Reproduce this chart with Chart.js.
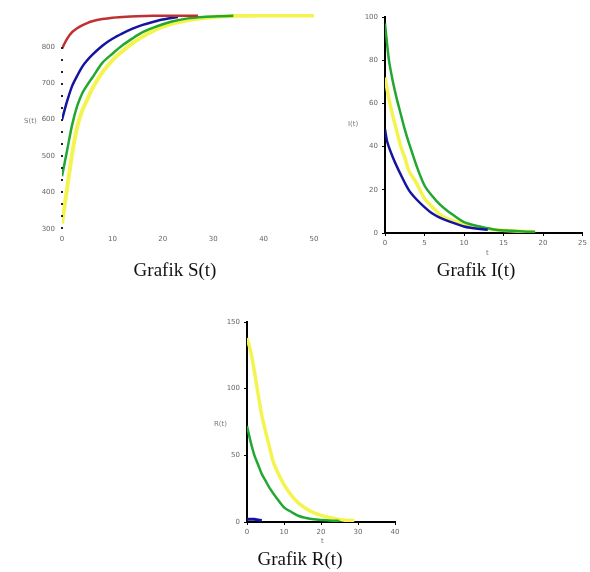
<!DOCTYPE html>
<html>
<head>
<meta charset="utf-8">
<script src="https://cdn.jsdelivr.net/npm/chart.js@4/dist/chart.umd.min.js"></script>
<style>
  body { margin: 0; background: #fff; width: 590px; height: 572px; position: relative; overflow: hidden; }
  canvas { position: absolute; }
  .cap { position: absolute; font-family: "Liberation Serif", serif; font-size: 19px; color: #111; white-space: nowrap; transform: translateX(-50%); }
  .ax { position: absolute; font-family: "DejaVu Sans", sans-serif; font-size: 7px; color: #777; }
</style>
</head>
<body>
<canvas id="sChart" style="left:0;top:0"></canvas>
<canvas id="iChart" style="left:330px;top:0"></canvas>
<canvas id="rChart" style="left:190px;top:300px"></canvas>

<div class="cap" style="left:175px;top:259px">Grafik S(t)</div>
<div class="cap" style="left:476px;top:259px">Grafik I(t)</div>
<div class="cap" style="left:300px;top:548px">Grafik R(t)</div>

<div class="ax" style="left:24px;top:117px">S(t)</div>
<div class="ax" style="left:348px;top:120px">I(t)</div>
<div class="ax" style="left:214px;top:420px">R(t)</div>
<div class="ax" style="left:486px;top:249px">t</div>
<div class="ax" style="left:321px;top:537px">t</div>

<script>
// Grafik S(t)
const sTicksX = [0, 10, 20, 30, 40, 50];
const sTicksY = [300, 400, 500, 600, 700, 800];
const sRedT = [0, 1, 2, 3, 4, 5, 6, 8, 10, 12, 15, 18, 21, 24, 27];
const sRed = [795, 822, 840, 851, 859, 865, 870, 876, 880, 882, 884, 885, 885, 885, 885];
const sBlueT = [0, 1, 2, 3, 4, 5, 6, 8, 10, 12, 14, 16, 18, 20, 23];
const sBlue = [600, 650, 692, 720, 745, 763, 778, 803, 822, 837, 850, 860, 868, 875, 882];
const sGreenT = [0, 1, 2, 3, 4, 5, 6, 8, 10, 12, 14, 16, 18, 20, 22, 25, 28, 31, 34];
const sGreen = [445, 515, 585, 637, 672, 695, 715, 756, 781, 804, 823, 840, 852, 862, 870, 878, 882, 884, 885];
const sYellowT = [0, 1, 2, 3, 4, 5, 6, 8, 10, 12, 14, 16, 18, 20, 22, 25, 28, 30, 35, 40, 45, 50];
const sYellow = [315, 410, 505, 580, 625, 655, 685, 730, 763, 788, 810, 828, 843, 855, 864, 873, 879, 882, 885, 886, 886, 886];

// Grafik I(t)
const iTicksX = [0, 5, 10, 15, 20, 25];
const iTicksY = [0, 20, 40, 60, 80, 100];
const iGreenT = [0, 0.5, 1, 1.5, 2, 2.5, 3, 4, 5, 6, 7, 8, 10, 12, 14, 16, 18, 19];
const iGreen = [97, 80, 70, 62, 55, 48, 42, 31, 22, 17, 13, 10, 5, 3, 1.5, 1, 0.6, 0.5];
const iYellowT = [0, 0.5, 1, 1.5, 2, 2.5, 3, 4, 5, 6, 7, 8, 10, 12, 14, 16, 18, 19];
const iYellow = [72, 62, 54, 47, 40, 35, 29, 23, 16, 12, 8.5, 6.5, 4, 2.5, 1.5, 1, 0.7, 0.6];
const iBlueT = [0, 0.3, 1, 2, 3, 4, 5, 6, 7, 8, 10, 11, 12, 13];
const iBlue = [48, 42, 35, 27, 20, 15.5, 12, 9, 7, 5.5, 3, 2.3, 1.8, 1.5];

// Grafik R(t)
const rTicksX = [0, 10, 20, 30, 40];
const rTicksY = [0, 50, 100, 150];
const rYellowT = [0, 1, 2, 3, 4, 5, 6, 7, 8, 10, 12, 14, 16, 18, 20, 23, 26, 29];
const rYellow = [138, 128, 113, 96, 80, 68, 57, 46, 39, 28, 20, 14, 10, 7, 5, 3, 1.5, 1];
const rGreenT = [0, 1, 2, 3, 4, 5, 6, 8, 10, 12, 14, 16, 18, 20, 23, 25];
const rGreen = [72, 60, 50, 43, 36, 31, 26, 18, 11, 7.5, 4.5, 3, 2, 1.5, 1, 0.8];
const rBlueT = [0, 1, 2, 3, 4];
const rBlue = [2, 2, 2, 1.5, 1];

const RED = "#c03030";
const BLUE = "#1414a0";
const GREEN = "#22a830";
const YELLOW = "#f4f450";

function pts(xs, ys) {
  return xs.map((x, i) => ({ x: x, y: ys[i] }));
}

function line(data, color, width) {
  return {
    data: data,
    borderColor: color,
    borderWidth: width,
    pointRadius: 0,
    tension: 0.3,
    fill: false,
  };
}

const tickFont = { size: 7, family: "DejaVu Sans" };

// S(t) grafiğinde y ekseni noktalı çizilir
const dottedAxis = {
  id: "dottedAxis",
  afterDraw(chart) {
    const a = chart.chartArea;
    const ctx = chart.ctx;
    ctx.save();
    ctx.strokeStyle = "#222";
    ctx.lineWidth = 2;
    ctx.setLineDash([2, 10]);
    ctx.beginPath();
    ctx.moveTo(a.left, a.bottom);
    ctx.lineTo(a.left, a.top + 25);
    ctx.stroke();
    ctx.restore();
  },
};

// ortak eksen ayarları; w = y ekseni genişliği, h = x ekseni yüksekliği
function axes(xTicks, yTicks, w, h, withLines, yMax) {
  return {
    x: {
      type: "linear",
      min: xTicks[0],
      max: xTicks[xTicks.length - 1],
      afterBuildTicks: (s) => { s.ticks = xTicks.map((v) => ({ value: v })); },
      afterFit: (s) => { s.height = h; },
      grid: { display: withLines, drawOnChartArea: false, tickLength: 3, color: "#000" },
      border: { display: withLines, color: "#000", width: 2 },
      ticks: { font: tickFont, color: "#666", padding: 3, maxRotation: 0 },
    },
    y: {
      type: "linear",
      min: yTicks[0],
      max: yMax,
      afterBuildTicks: (s) => { s.ticks = yTicks.map((v) => ({ value: v })); },
      afterFit: (s) => { s.width = w; },
      grid: { display: withLines, drawOnChartArea: false, tickLength: 3, color: "#000" },
      border: { display: withLines, color: "#000", width: 2 },
      ticks: { font: tickFont, color: "#666", padding: 4 },
    },
  };
}

function makeChart(id, w, h, datasets, scales, pad, plugins) {
  const c = document.getElementById(id);
  c.width = w;
  c.height = h;
  return new Chart(c, {
    type: "line",
    data: { datasets: datasets },
    options: {
      responsive: false,
      animation: false,
      layout: { padding: pad },
      plugins: { legend: { display: false }, tooltip: { enabled: false } },
      scales: scales,
    },
    plugins: plugins || [],
  });
}

makeChart(
  "sChart", 330, 260,
  [
    line(pts(sRedT, sRed), RED, 2.5),
    line(pts(sBlueT, sBlue), BLUE, 2.5),
    line(pts(sGreenT, sGreen), GREEN, 2.5),
    line(pts(sYellowT, sYellow), YELLOW, 4),
  ],
  axes(sTicksX, sTicksY, 62, 31, false, 890),
  { top: 14, right: 16, left: 0, bottom: 0 },
  [dottedAxis]
);

makeChart(
  "iChart", 260, 260,
  [
    line(pts(iBlueT, iBlue), BLUE, 2.5),
    line(pts(iGreenT, iGreen), GREEN, 2.5),
    line(pts(iYellowT, iYellow), YELLOW, 3.5),
  ],
  axes(iTicksX, iTicksY, 55, 27, true, 100),
  { top: 17, right: 5, left: 0, bottom: 0 }
);

makeChart(
  "rChart", 220, 250,
  [
    line(pts(rBlueT, rBlue), BLUE, 3),
    line(pts(rGreenT, rGreen), GREEN, 2.5),
    line(pts(rYellowT, rYellow), YELLOW, 3.5),
  ],
  axes(rTicksX, rTicksY, 57, 28, true, 150),
  { top: 22, right: 15, left: 0, bottom: 0 }
);
</script>
</body>
</html>
